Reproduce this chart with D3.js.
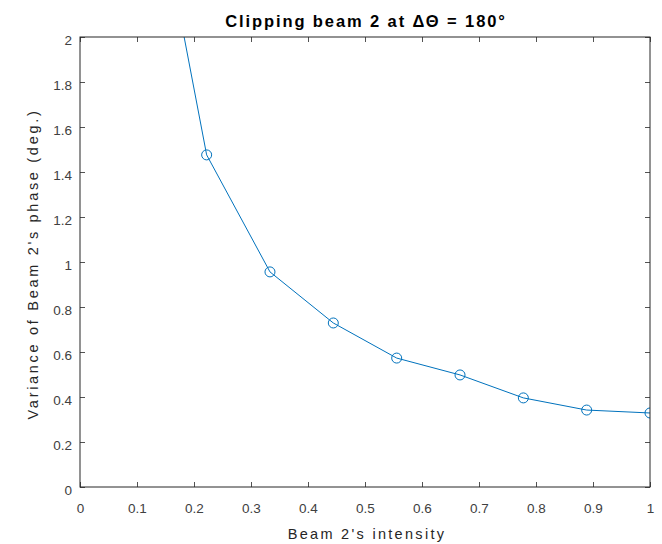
<!DOCTYPE html>
<html>
<head>
<meta charset="utf-8">
<script src="https://cdn.jsdelivr.net/npm/d3@7"></script>
<style>
  body { margin: 0; background: #fff; }
  text { font-family: "Liberation Sans", Arial, sans-serif; }
</style>
</head>
<body>
<script>
// data
var intensity = [0.1111, 0.2222, 0.3333, 0.4444, 0.5556, 0.6667, 0.7778, 0.8889, 1.0];
var variance  = [2.95, 1.476, 0.956, 0.729, 0.573, 0.498, 0.396, 0.342, 0.329];
var xTicks = [0, 0.1, 0.2, 0.3, 0.4, 0.5, 0.6, 0.7, 0.8, 0.9, 1];
var yTicks = [0, 0.2, 0.4, 0.6, 0.8, 1, 1.2, 1.4, 1.6, 1.8, 2];

var w = 662, h = 544;
var padL = 80, padR = 650, padT = 37, padB = 487;
var axisColor = "#262626";
var lineColor = "#0072BD";

var svg = d3.select("body").append("svg")
    .attr("width", w)
    .attr("height", h);

var x = d3.scaleLinear().domain([0, 1]).range([padL, padR]);
var y = d3.scaleLinear().domain([0, 2]).range([padB, padT]);

// clip to the axes box
svg.append("clipPath").attr("id", "box")
  .append("rect")
    .attr("x", padL).attr("y", padT)
    .attr("width", padR - padL).attr("height", padB - padT);

var pts = intensity.map(function(d, i) { return [d, variance[i]]; });

var plot = svg.append("g").attr("clip-path", "url(#box)");

plot.append("path")
    .datum(pts)
    .attr("fill", "none")
    .attr("stroke", lineColor)
    .attr("stroke-width", 1)
    .attr("d", d3.line()
        .x(function(d) { return x(d[0]); })
        .y(function(d) { return y(d[1]); }));

plot.selectAll("circle")
    .data(pts)
    .enter()
    .append("circle")
    .attr("cx", function(d) { return x(d[0]); })
    .attr("cy", function(d) { return y(d[1]); })
    .attr("r", 5)
    .attr("fill", "none")
    .attr("stroke", lineColor)
    .attr("stroke-width", 1);

// axes, ticks pointing inward, box on
var tickLen = 5;
var fmt = function(d) { return d3.format("")(+d.toFixed(1)); };

var xAxis = d3.axisBottom(x).tickValues(xTicks).tickSize(-tickLen).tickPadding(16).tickFormat(fmt);
var yAxis = d3.axisLeft(y).tickValues(yTicks).tickSize(-tickLen).tickPadding(8).tickFormat(fmt);
var xTop = d3.axisTop(x).tickValues(xTicks).tickSize(-tickLen).tickFormat("");
var yRight = d3.axisRight(y).tickValues(yTicks).tickSize(-tickLen).tickFormat("");

function style(g) {
  g.select(".domain").remove();
  g.selectAll("line").attr("stroke", axisColor).attr("stroke-width", 0.8);
  g.selectAll("text").attr("fill", "#404040").style("font-size", "13.5px")
    .style("font-family", "'Liberation Sans', Arial, sans-serif");
}

svg.append("g").attr("transform", "translate(0," + padB + ")").call(xAxis).call(style);
svg.append("g").attr("transform", "translate(" + padL + ",0)").call(yAxis).call(style)
   .selectAll("text").attr("dy", "0.52em");
svg.append("g").attr("transform", "translate(0," + padT + ")").call(xTop).call(style);
svg.append("g").attr("transform", "translate(" + padR + ",0)").call(yRight).call(style);

// the box itself
svg.append("rect")
    .attr("x", padL).attr("y", padT)
    .attr("width", padR - padL).attr("height", padB - padT)
    .attr("fill", "none")
    .attr("stroke", axisColor)
    .attr("stroke-width", 1);

// title
svg.append("text")
    .attr("x", (padL + padR) / 2 + 1)
    .attr("y", 27)
    .attr("text-anchor", "middle")
    .attr("fill", "#000")
    .style("font-size", "16.5px")
    .style("font-weight", "bold")
    .style("letter-spacing", "1.9px")
    .text("Clipping beam 2 at \u0394\u0398 = 180\u00b0");

// axis labels
svg.append("text")
    .attr("x", (padL + padR) / 2 + 2)
    .attr("y", 538.5)
    .attr("text-anchor", "middle")
    .attr("fill", axisColor)
    .style("font-size", "14.5px")
    .style("letter-spacing", "2.3px")
    .text("Beam 2's intensity");

svg.append("text")
    .attr("transform", "translate(37.5,264) rotate(-90)")
    .attr("text-anchor", "middle")
    .attr("fill", axisColor)
    .style("font-size", "14.5px")
    .style("letter-spacing", "2.7px")
    .text("Variance of Beam 2's phase (deg.)");
</script>
</body>
</html>
